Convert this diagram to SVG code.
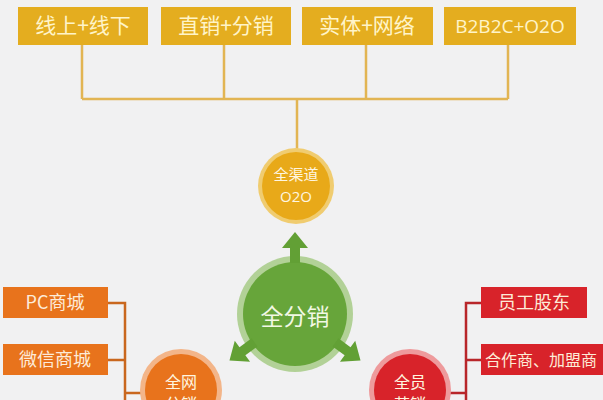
<svg xmlns="http://www.w3.org/2000/svg" width="603" height="400" viewBox="0 0 603 400">
<defs>
<style>
.t{font-family:"Noto Sans CJK SC","Liberation Sans",sans-serif;text-anchor:middle}
.gold{fill:#E4AD1F}
.gt{fill:#FFF4C8;font-size:21px}
.org{fill:#E8731C}
.red{fill:#D8232A}
.bt{fill:#FDEBD8;font-size:18px}
.ct{fill:#FFF6E0;font-size:15px}
.gl{stroke:#E2B553;stroke-width:2.5;fill:none}
.ol{stroke:#C9671E;stroke-width:2.5;fill:none}
.rl{stroke:#B8262A;stroke-width:2.5;fill:none}
</style>
<path id="arr" d="M-5,-50 L-5,-65 L-13,-65 L0,-81 L13,-65 L5,-65 L5,-50 Z" fill="#62A035"/>
</defs>
<rect width="603" height="400" fill="#F1F1F2"/>
<g id="connectors">
<path class="gl" d="M82,45 V99 M224,45 V99 M366,45 V99 M508,45 V99 M82,99 H508 M297,99 V150"/>
<path class="ol" d="M108,303 H125 V400 M108,360 H125 M125,393 H145"/>
<path class="rl" d="M481,303 H466 V400 M481,360 H466 M448,393 H466"/>
</g>
<g id="n1"><rect class="gold" x="18" y="7" width="130" height="38"/><text class="t gt" x="83" y="33">线上+线下</text></g>
<g id="n2"><rect class="gold" x="161" y="7" width="130" height="38"/><text class="t gt" x="226" y="33">直销+分销</text></g>
<g id="n3"><rect class="gold" x="302" y="7" width="131" height="38"/><text class="t gt" x="367" y="33">实体+网络</text></g>
<g id="n4"><rect class="gold" x="444" y="7" width="132" height="38"/><text class="t gt" x="510" y="33" style="font-family:'Open Sans','Liberation Sans',sans-serif;font-size:19px">B2B2C+O2O</text></g>
<g id="o2o"><circle cx="296" cy="186" r="38" fill="#F0CC70"/><circle cx="296" cy="186" r="34" fill="#E8A919"/><text class="t ct" x="296" y="180">全渠道</text><text class="t ct" x="296" y="202" style="font-family:'Open Sans','Liberation Sans',sans-serif">O2O</text></g>
<g id="center">
<circle cx="295" cy="314" r="58" fill="#B2D197"/><circle cx="295" cy="314" r="52" fill="#67A53A"/>
<use href="#arr" transform="translate(295,313)"/>
<use href="#arr" transform="translate(295,313) rotate(126)"/>
<use href="#arr" transform="translate(295,313) rotate(-126)"/>
<text class="t" x="295" y="325" style="fill:#F2F8E4;font-size:23px">全分销</text>
</g>
<g id="wangluo"><circle cx="181" cy="390" r="41" fill="#F3B589"/><circle cx="181" cy="390" r="36" fill="#E8731C"/><text class="t ct" x="181" y="388" style="font-size:16px">全网</text><text class="t ct" x="181" y="410" style="font-size:16px">分销</text></g>
<g id="quanyuan"><circle cx="410" cy="390" r="41" fill="#EE9A9C"/><circle cx="410" cy="390" r="36" fill="#D8232A"/><text class="t ct" x="410" y="388" style="font-size:16px">全员</text><text class="t ct" x="410" y="410" style="font-size:16px">营销</text></g>
<g id="pc"><rect class="org" x="3" y="287" width="105" height="31"/><text class="t bt" x="55" y="309">PC商城</text></g>
<g id="wx"><rect class="org" x="3" y="344" width="105" height="31"/><text class="t bt" x="55" y="366">微信商城</text></g>
<g id="yg"><rect class="red" x="481" y="287" width="106" height="31"/><text class="t bt" x="534" y="309">员工股东</text></g>
<g id="hz"><rect class="red" x="481" y="344" width="122" height="31"/><text class="t bt" x="541" y="366" style="font-size:16px">合作商、加盟商</text></g>
</svg>
